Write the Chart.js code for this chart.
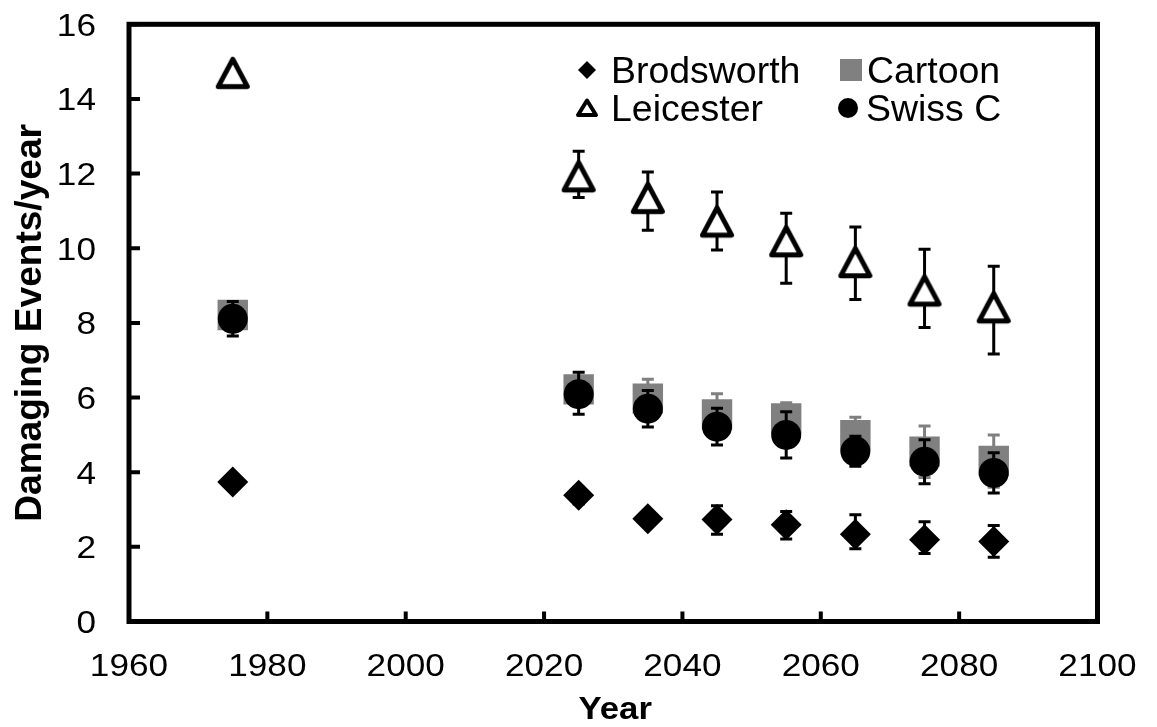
<!DOCTYPE html>
<html><head><meta charset="utf-8">
<script src="https://cdn.jsdelivr.net/npm/chart.js@4.4.1/dist/chart.umd.min.js"></script>
<style>html,body{margin:0;padding:0;background:#fff}#wrap{width:1157px;height:727px;position:relative}</style>
</head><body><div id="wrap"><canvas id="c"></canvas></div>
<script>
// ---- data ----
const years = [1975, 2025, 2035, 2045, 2055, 2065, 2075, 2085];
const brodsworth     = [3.74, 3.38, 2.75, 2.73, 2.59, 2.34, 2.19, 2.14];
const brodsworthLow  = [3.74, 3.15, 2.55, 2.34, 2.21, 1.95, 1.82, 1.72];
const brodsworthHigh = [3.74, 3.60, 2.95, 3.10, 2.95, 2.86, 2.67, 2.57];
const cartoon     = [8.21, 6.22, 5.97, 5.55, 5.44, 4.99, 4.55, 4.30];
const cartoonLow  = [7.95, 5.87, 5.45, 5.00, 5.02, 4.51, 3.86, 3.60];
const cartoonHigh = [8.45, 6.57, 6.49, 6.10, 5.86, 5.47, 5.24, 5.00];
const leicester     = [14.70, 11.93, 11.35, 10.72, 10.19, 9.63, 8.87, 8.42];
const leicesterLow  = [14.70, 11.36, 10.48, 9.95, 9.06, 8.63, 7.88, 7.17];
const leicesterHigh = [14.70, 12.60, 12.04, 11.51, 10.94, 10.57, 9.97, 9.52];
const swissC     = [8.11, 6.09, 5.70, 5.22, 5.00, 4.56, 4.28, 3.98];
const swissCLow  = [7.65, 5.55, 5.21, 4.73, 4.38, 4.16, 3.69, 3.44];
const swissCHigh = [8.57, 6.68, 6.19, 5.71, 5.62, 4.96, 4.87, 4.52];
const seriesNames = ['Brodsworth', 'Cartoon', 'Leicester', 'Swiss C'];
const xTicks = [1960, 1980, 2000, 2020, 2040, 2060, 2080, 2100];
const yTicks = [0, 2, 4, 6, 8, 10, 12, 14, 16];
const xTitle = 'Year';
const yTitle = 'Damaging Events/year';

// ---- styling helpers ----
const FONT = '"Liberation Sans", Arial, sans-serif';
const GREY = '#808080';

function makeTriangle(size, lw) {
  const c = document.createElement('canvas');
  c.width = size; c.height = size;
  const g = c.getContext('2d');
  const cx = size / 2, w = size * 0.66, h = size * 0.62;
  g.beginPath();
  g.moveTo(cx, cx - h / 2);
  g.lineTo(cx + w / 2, cx + h / 2);
  g.lineTo(cx - w / 2, cx + h / 2);
  g.closePath();
  g.fillStyle = '#fff'; g.fill();
  g.lineJoin = 'round'; g.lineWidth = lw; g.strokeStyle = '#000'; g.stroke();
  return c;
}
const triImg = makeTriangle(44, 5);

function pts(vals) { return years.map((x, i) => ({ x: x, y: vals[i] })); }

const datasets = [
  { label: seriesNames[0], data: pts(brodsworth), errLow: brodsworthLow, errHigh: brodsworthHigh, errColor: '#000',
    pointStyle: 'rectRot', pointRadius: 15.5, backgroundColor: '#000', borderColor: '#000', borderWidth: 0, order: 4 },
  { label: seriesNames[1], data: pts(cartoon), errLow: cartoonLow, errHigh: cartoonHigh, errColor: GREY,
    pointStyle: 'rect', pointRadius: 21.5, backgroundColor: GREY, borderColor: GREY, borderWidth: 0, order: 3 },
  { label: seriesNames[2], data: pts(leicester), errLow: leicesterLow, errHigh: leicesterHigh, errColor: '#000',
    pointStyle: triImg, pointRadius: 18, backgroundColor: '#fff', borderColor: '#000', borderWidth: 0, order: 2 },
  { label: seriesNames[3], data: pts(swissC), errLow: swissCLow, errHigh: swissCHigh, errColor: '#000',
    pointStyle: 'circle', pointRadius: 15, backgroundColor: '#000', borderColor: '#000', borderWidth: 0, order: 1 }
];

function txt(ctx, s, x, y, fs, bold, sx, align, rot) {
  ctx.save();
  ctx.translate(x, y);
  if (rot) ctx.rotate(rot);
  ctx.scale(sx, 1);
  ctx.font = (bold ? 'bold ' : '') + fs + 'px ' + FONT;
  ctx.textAlign = align; ctx.textBaseline = 'alphabetic'; ctx.fillStyle = '#000';
  ctx.fillText(s, 0, 0);
  ctx.restore();
}

const errorBars = {
  id: 'errorBars',
  beforeDatasetDraw(chart, args) {
    const ds = chart.data.datasets[args.index];
    if (!ds.errLow) return;
    const ctx = chart.ctx, xs = chart.scales.x, ys = chart.scales.y;
    ctx.save();
    ctx.strokeStyle = ds.errColor; ctx.lineWidth = 3; ctx.lineCap = 'butt';
    ds.data.forEach((p, i) => {
      const x = xs.getPixelForValue(p.x);
      const yl = ys.getPixelForValue(ds.errLow[i]);
      const yh = ys.getPixelForValue(ds.errHigh[i]);
      if (Math.abs(yl - yh) < 1) return;
      ctx.beginPath();
      ctx.moveTo(x, yl); ctx.lineTo(x, yh);
      ctx.moveTo(x - 6, yl); ctx.lineTo(x + 6, yl);
      ctx.moveTo(x - 6, yh); ctx.lineTo(x + 6, yh);
      ctx.stroke();
    });
    ctx.restore();
  }
};

const frameAndText = {
  id: 'frameAndText',
  afterDraw(chart) {
    const ctx = chart.ctx, a = chart.chartArea, xs = chart.scales.x, ys = chart.scales.y;
    ctx.save();
    ctx.strokeStyle = '#000'; ctx.lineWidth = 5;
    ctx.strokeRect(a.left, a.top, a.right - a.left, a.bottom - a.top);
    ctx.lineWidth = 4;
    ctx.beginPath();
    xTicks.forEach(v => { const x = xs.getPixelForValue(v); ctx.moveTo(x, a.bottom); ctx.lineTo(x, a.bottom - 10); });
    yTicks.forEach(v => { const y = ys.getPixelForValue(v); ctx.moveTo(a.left, y); ctx.lineTo(a.left + 11, y); });
    ctx.stroke();
    // tick labels
    xTicks.forEach(v => txt(ctx, String(v), xs.getPixelForValue(v), 676, 32, false, 1.1, 'center'));
    yTicks.forEach(v => txt(ctx, String(v), 96, ys.getPixelForValue(v) + 11.5, 32, false, 1.1, 'right'));
    // axis titles
    txt(ctx, xTitle, (a.left + a.right) / 2 + 2, 719, 31, true, 1.12, 'center');
    txt(ctx, yTitle, 41, (a.top + a.bottom) / 2, 36, true, 1.03, 'center', -Math.PI / 2);
    // legend
    const rows = [70, 108];
    const items = [
      { name: seriesNames[0], mx: 587, tx: 611, row: 0, kind: 'diamond' },
      { name: seriesNames[1], mx: 851, tx: 867, row: 0, kind: 'square' },
      { name: seriesNames[2], mx: 587, tx: 611, row: 1, kind: 'triangle' },
      { name: seriesNames[3], mx: 848, tx: 866, row: 1, kind: 'circle' }
    ];
    items.forEach(it => {
      const cy = rows[it.row];
      ctx.beginPath();
      if (it.kind === 'diamond') {
        ctx.moveTo(it.mx, cy - 9); ctx.lineTo(it.mx + 9, cy); ctx.lineTo(it.mx, cy + 9); ctx.lineTo(it.mx - 9, cy); ctx.closePath();
        ctx.fillStyle = '#000'; ctx.fill();
      } else if (it.kind === 'square') {
        ctx.fillStyle = GREY; ctx.fillRect(it.mx - 11, cy - 11, 22, 22);
      } else if (it.kind === 'triangle') {
        ctx.moveTo(it.mx, cy - 7.5); ctx.lineTo(it.mx + 9, cy + 7); ctx.lineTo(it.mx - 9, cy + 7); ctx.closePath();
        ctx.fillStyle = '#fff'; ctx.fill(); ctx.lineWidth = 4; ctx.lineJoin = 'round'; ctx.strokeStyle = '#000'; ctx.stroke();
      } else {
        ctx.arc(it.mx, cy, 10, 0, Math.PI * 2); ctx.fillStyle = '#000'; ctx.fill();
      }
      txt(ctx, it.name, it.tx, cy + 12.5, 36, false, 1.04, 'left');
    });
    ctx.restore();
  }
};

new Chart(document.getElementById('c'), {
  type: 'scatter',
  data: { datasets: datasets },
  options: {
    responsive: true, maintainAspectRatio: false, animation: false,
    layout: { padding: { left: 129, top: 24.3, right: 59.5, bottom: 105.5 } },
    plugins: { legend: { display: false }, tooltip: { enabled: false } },
    scales: {
      x: { type: 'linear', min: 1960, max: 2100, display: false },
      y: { type: 'linear', min: 0, max: 16, display: false }
    }
  },
  plugins: [errorBars, frameAndText]
});
</script></body></html>
